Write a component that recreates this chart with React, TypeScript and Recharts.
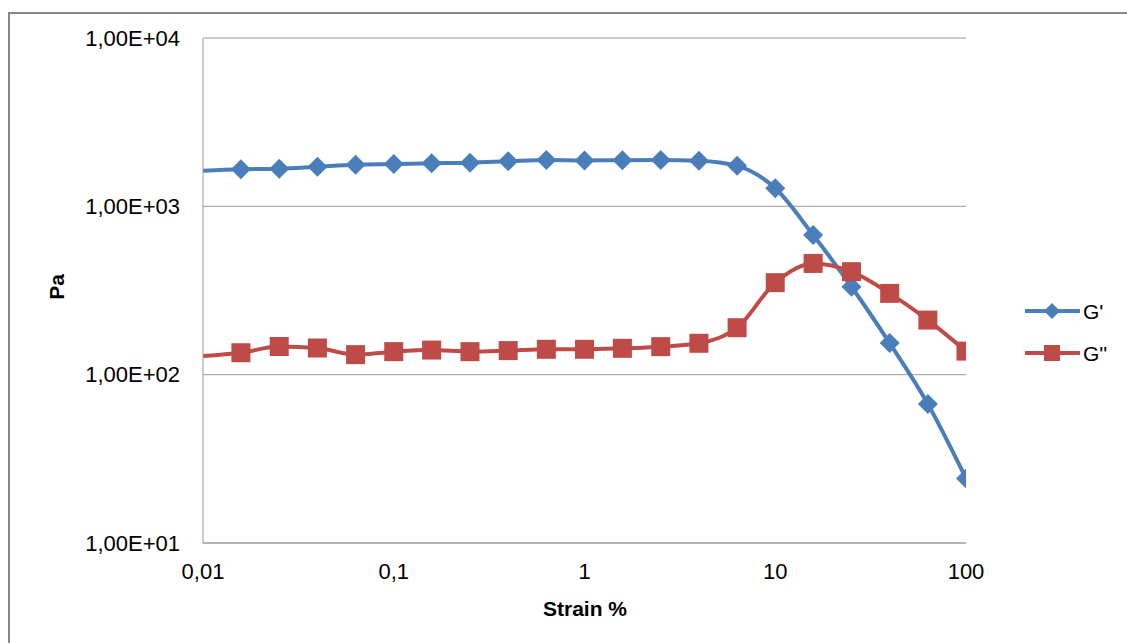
import React from "react";
import { LineChart, Line, XAxis, YAxis, CartesianGrid, Legend, Label } from "recharts";

const strain = [
    0.01, 0.0158, 0.0251, 0.0398, 0.0631, 0.1, 0.158, 0.251, 0.398, 0.631,
    1, 1.58, 2.51, 3.98, 6.31, 10, 15.8, 25.1, 39.8, 63.1, 100,
];
const gPrime = [
    1628, 1660, 1673, 1720, 1768, 1785, 1802, 1817, 1852, 1885,
    1875, 1880, 1885, 1867, 1740, 1280, 675, 333, 154, 67, 24.2,
];
const gDouble = [
    129, 135, 147, 144, 131.5, 137, 140, 137, 139, 141.5,
    141.5, 143.4, 146.7, 153.6, 190, 352, 458, 409, 304, 211, 138,
];
const xTicks = [0.01, 0.1, 1, 10, 100];
const yTicks = [10, 100, 1000, 10000];

const BLUE = "#4A7EBB";
const RED = "#BE4B48";
const FONT = "'Liberation Sans', Arial, sans-serif";

const data = strain.map((x, i) => ({ x, g1: gPrime[i], g2: gDouble[i] }));

const fmtX = (v: number) => String(v).replace(".", ",");
const fmtY = (v: number) => "1,00E+" + String(Math.round(Math.log10(v))).padStart(2, "0");

const Diamond = (props: any) => {
    const { cx, cy, index } = props;
    if (index === 0 || cx == null) return <g key={`d-${index}`} />;
    const r = 10;
    return (
        <polygon
            key={`d-${index}`}
            points={`${cx},${cy - r} ${cx + r},${cy} ${cx},${cy + r} ${cx - r},${cy}`}
            fill={BLUE}
        />
    );
};

const Square = (props: any) => {
    const { cx, cy, index } = props;
    if (index === 0 || cx == null) return <g key={`s-${index}`} />;
    const h = 9.5;
    return <rect key={`s-${index}`} x={cx - h} y={cy - h} width={h * 2} height={h * 2} fill={RED} />;
};

const LegendBox = ({ payload }: any) => (
    <svg width={110} height={80}>
        {(payload || []).map((p: any, i: number) => {
            const y = 16 + i * 42;
            return (
                <g key={p.value}>
                    <line x1={5} x2={60} y1={y} y2={y} stroke={p.color} strokeWidth={4} />
                    {i === 0 ? (
                        <polygon points={`32,${y - 8} 40,${y} 32,${y + 8} 24,${y}`} fill={p.color} />
                    ) : (
                        <rect x={24} y={y - 8} width={16} height={16} fill={p.color} />
                    )}
                    <text x={63} y={y} dominantBaseline="central" fontSize={21} fontFamily={FONT} fill="#000">
                        {p.value}
                    </text>
                </g>
            );
        })}
    </svg>
);

export default function App() {
    return (
        <div style={{ position: "absolute", left: 0, top: 0, width: 1127, height: 643, background: "#fff", overflow: "hidden" }}>
            <div style={{
                position: "absolute", left: 8, top: 12, width: 1300, height: 800,
                borderTop: "2px solid #878787", borderLeft: "2px solid #878787",
            }} />
            <div style={{ position: "absolute", left: 0, top: 0 }}>
                <LineChart width={1127} height={643} data={data} margin={{ top: 38, right: 51, bottom: 20, left: 0 }}>
                    <CartesianGrid vertical={false} stroke="#9a9a9a" />
                    <XAxis
                        dataKey="x"
                        type="number"
                        scale="log"
                        domain={[0.01, 100]}
                        ticks={xTicks}
                        tickFormatter={fmtX}
                        height={80}
                        tickLine={false}
                        tickMargin={14}
                        stroke="#9a9a9a"
                        tick={{ fill: "#000", fontSize: 22, fontFamily: FONT }}
                        allowDataOverflow
                    >
                        <Label
                            content={() => (
                                <text x={585} y={608} textAnchor="middle" dominantBaseline="central"
                                    fontSize={21} fontWeight="bold" fontFamily={FONT} fill="#000">
                                    Strain %
                                </text>
                            )}
                        />
                    </XAxis>
                    <YAxis
                        type="number"
                        scale="log"
                        domain={[10, 10000]}
                        ticks={yTicks}
                        tickFormatter={fmtY}
                        width={203}
                        tickLine={false}
                        tickMargin={17}
                        stroke="#9a9a9a"
                        tick={{ fill: "#000", fontSize: 22, fontFamily: FONT }}
                        allowDataOverflow
                    >
                        <Label
                            content={() => (
                                <text x={56} y={287} transform="rotate(-90 56 287)" textAnchor="middle"
                                    dominantBaseline="central" fontSize={21} fontWeight="bold" fontFamily={FONT} fill="#000">
                                    Pa
                                </text>
                            )}
                        />
                    </YAxis>
                    <Legend
                        layout="vertical"
                        align="right"
                        verticalAlign="top"
                        content={<LegendBox />}
                        wrapperStyle={{ position: "absolute", left: 1020, top: 295, width: 110 }}
                    />
                    <Line
                        type="monotone"
                        dataKey="g1"
                        name="G'"
                        stroke={BLUE}
                        strokeWidth={4}
                        dot={Diamond}
                        activeDot={false}
                        isAnimationActive={false}
                    />
                    <Line
                        type="monotone"
                        dataKey="g2"
                        name="G''"
                        stroke={RED}
                        strokeWidth={4}
                        dot={Square}
                        activeDot={false}
                        isAnimationActive={false}
                    />
                </LineChart>
            </div>
        </div>
    );
}
